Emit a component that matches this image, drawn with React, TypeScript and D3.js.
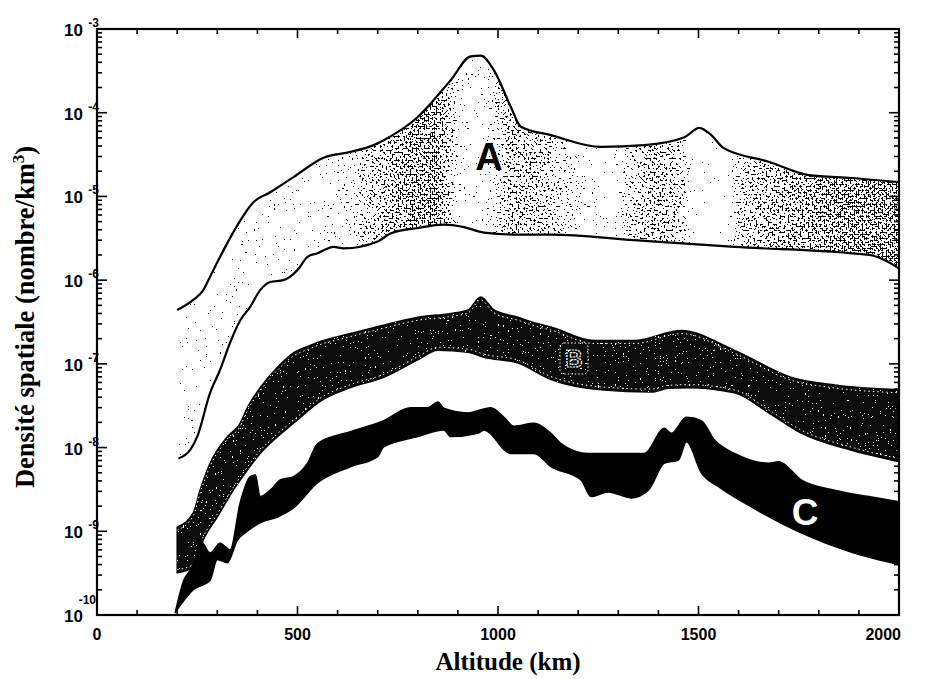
import React from 'react';
import * as d3 from 'd3';

const W = 925;
const H = 679;
const M = { left: 97, right: 899, top: 29, bottom: 615 };

const X_TICKS = [0, 500, 1000, 1500, 2000];
const Y_EXPONENTS = [-3, -4, -5, -6, -7, -8, -9, -10];

type P = [number, number];

// Band A (altitude km, density nombre/km^3)
const A_UPPER: P[] = [
  [200, 4.4e-7], [240, 5.8e-7], [265, 7.6e-7], [282, 1.1e-6], [307, 1.9e-6], [332, 3.2e-6],
  [360, 5.4e-6], [390, 8.5e-6], [432, 1.12e-5], [490, 1.7e-5], [565, 2.9e-5], [632, 3.4e-5],
  [690, 4.1e-5], [715, 4.7e-5], [800, 8.9e-5], [882, 2.45e-4], [932, 4.7e-4], [957, 4.8e-4],
  [990, 3.2e-4], [1032, 1.17e-4], [1057, 6.8e-5], [1132, 5.4e-5], [1257, 3.9e-5], [1365, 4.1e-5],
  [1465, 5.1e-5], [1502, 6.6e-5], [1532, 5.4e-5], [1562, 3.8e-5], [1675, 2.6e-5], [1775, 1.8e-5],
  [1882, 1.66e-5], [2000, 1.48e-5],
];
const A_LOWER: P[] = [
  [203, 7.4e-9], [232, 9.3e-9], [250, 1.35e-8], [282, 4.5e-8], [307, 8.5e-8], [332, 1.8e-7],
  [357, 3.3e-7], [382, 4.8e-7], [407, 7.6e-7], [432, 9.5e-7], [465, 1.0e-6], [500, 1.32e-6],
  [525, 1.9e-6], [550, 2.1e-6], [590, 2.5e-6], [615, 2.4e-6], [700, 2.9e-6], [732, 3.6e-6],
  [800, 4.2e-6], [865, 4.6e-6], [915, 4.3e-6], [965, 3.7e-6], [1050, 3.5e-6], [1132, 3.5e-6],
  [1340, 3.0e-6], [1590, 2.5e-6], [1925, 2.0e-6], [2000, 1.38e-6],
];

// Band B
const B_UPPER: P[] = [
  [200, 1.12e-9], [240, 1.66e-9], [257, 3.1e-9], [282, 6.5e-9], [325, 1.35e-8], [357, 1.95e-8],
  [375, 3.0e-8], [407, 5.2e-8], [450, 9.1e-8], [490, 1.35e-7], [532, 1.66e-7], [550, 1.8e-7],
  [632, 2.3e-7], [715, 2.9e-7], [800, 3.6e-7], [882, 4.0e-7], [925, 4.4e-7], [957, 6.3e-7],
  [990, 4.4e-7], [1050, 3.6e-7], [1090, 3.1e-7], [1132, 2.75e-7], [1240, 1.9e-7], [1340, 1.9e-7],
  [1457, 2.5e-7], [1590, 1.45e-7], [1732, 6.9e-8], [1840, 5.6e-8], [2000, 4.9e-8],
];
const B_LOWER: P[] = [
  [200, 3.2e-10], [240, 3.7e-10], [265, 7.9e-10], [300, 1.48e-9], [340, 3.1e-9], [375, 5.4e-9],
  [407, 8.5e-9], [450, 1.35e-8], [490, 1.95e-8], [532, 2.9e-8], [550, 3.4e-8], [632, 5.2e-8],
  [715, 6.9e-8], [800, 1.12e-7], [850, 1.45e-7], [925, 1.38e-7], [965, 1.2e-7], [1050, 1.02e-7],
  [1132, 6.5e-8], [1257, 4.9e-8], [1382, 4.6e-8], [1425, 5.1e-8], [1475, 5.2e-8], [1590, 4.5e-8],
  [1675, 2.6e-8], [1757, 1.48e-8], [1882, 9.3e-9], [2000, 6.8e-9],
];

// Band C
const C_UPPER: P[] = [
  [195, 1.07e-10], [215, 2.5e-10], [240, 4.0e-10], [257, 7.9e-10], [282, 5.5e-10], [307, 7.2e-10],
  [332, 6.0e-10], [357, 2.2e-9], [382, 4.5e-9], [395, 4.7e-9], [407, 2.6e-9], [432, 3.1e-9],
  [457, 4.1e-9], [490, 4.5e-9], [525, 6.5e-9], [550, 1.12e-8], [632, 1.55e-8], [715, 2.1e-8],
  [782, 3.0e-8], [825, 3.0e-8], [850, 3.5e-8], [865, 2.95e-8], [925, 2.6e-8], [982, 3.0e-8],
  [1015, 2.3e-8], [1040, 1.8e-8], [1090, 1.95e-8], [1132, 1.48e-8], [1157, 1.12e-8], [1225, 8.5e-9],
  [1365, 8.5e-9], [1415, 1.7e-8], [1432, 1.48e-8], [1470, 2.3e-8], [1507, 2.1e-8], [1540, 1.23e-8],
  [1590, 8.5e-9], [1675, 6.5e-9], [1700, 6.8e-9], [1757, 4.1e-9], [1840, 3.1e-9], [1925, 2.6e-9],
  [2000, 2.25e-9],
];
const C_LOWER: P[] = [
  [195, 1.07e-10], [240, 2.0e-10], [282, 2.6e-10], [300, 4.6e-10], [325, 4.2e-10], [350, 7.8e-10],
  [375, 1.0e-9], [407, 1.26e-9], [450, 1.48e-9], [490, 1.9e-9], [550, 3.8e-9], [632, 5.9e-9],
  [700, 7.8e-9], [715, 1.02e-8], [800, 1.35e-8], [865, 1.62e-8], [882, 1.35e-8], [950, 1.48e-8],
  [965, 1.62e-8], [1032, 8.5e-9], [1090, 8.5e-9], [1132, 5.9e-9], [1207, 4.1e-9], [1232, 2.6e-9],
  [1275, 2.95e-9], [1332, 2.5e-9], [1375, 3.1e-9], [1415, 6.5e-9], [1450, 7.1e-9], [1470, 1.17e-8],
  [1507, 5.0e-9], [1550, 3.4e-9], [1632, 1.95e-9], [1757, 9.5e-10], [1882, 5.6e-10], [2000, 4.0e-10],
];

// shading density profile of band A (style: relative stipple density along altitude)
const A_SHADE: P[] = [
  [200, 0.04], [550, 0.06], [640, 0.14], [700, 0.34], [780, 0.54], [850, 0.54], [895, 0.15],
  [935, 0.04], [985, 0.12], [1030, 0.4], [1100, 0.34], [1180, 0.15], [1280, 0.03], [1340, 0.24],
  [1400, 0.42], [1450, 0.27], [1490, 0.02], [1570, 0.02], [1620, 0.34], [1720, 0.46], [1850, 0.56],
  [2000, 0.56],
];

const SANS = "'Liberation Sans', Arial, Helvetica, sans-serif";
const SERIF = "'Liberation Serif', 'Times New Roman', serif";

function Stipple({ id, color, freq, seed }: { id: string; color: string; freq: number; seed: number }) {
  return (
    <filter id={id} filterUnits="userSpaceOnUse" x={0} y={0} width={W} height={H} colorInterpolationFilters="sRGB">
      <feTurbulence type="fractalNoise" baseFrequency={String(freq)} numOctaves={2} seed={seed} result="noise" />
      <feColorMatrix in="noise" type="matrix" values="0 0 0 0 0  0 0 0 0 0  0 0 0 0 0  1 0 0 0 0" result="nA" />
      <feComposite in="SourceAlpha" in2="nA" operator="arithmetic" k1={0} k2={1} k3={-1} k4={0.5} result="diff" />
      <feComponentTransfer in="diff" result="th">
        <feFuncA type="discrete" tableValues="0 1" />
      </feComponentTransfer>
      <feFlood floodColor={color} result="fl" />
      <feComposite in="fl" in2="th" operator="in" />
    </filter>
  );
}

export default function App() {
  const x = d3.scaleLinear().domain([0, 2000]).range([M.left, M.right]);
  const y = d3.scaleLog().domain([1e-10, 1e-3]).range([M.bottom, M.top]);

  const mk = (curve: d3.CurveFactory) =>
    d3.line<P>().x((d) => x(d[0])).y((d) => y(d[1])).curve(curve);
  const smooth = mk(d3.curveMonotoneX);

  const band = (up: P[], lo: P[], l: d3.Line<P>) => {
    const a = l(up) as string;
    const b = (l(lo.slice().reverse()) as string).replace(/^M/, 'L');
    return a + b + 'Z';
  };

  const aPath = band(A_UPPER, A_LOWER, smooth);
  const bPath = band(B_UPPER, B_LOWER, smooth);
  const cPath = band(C_UPPER, C_LOWER, smooth);

  const shadeD = (f: number) => 0.24 + 0.46 * f;

  const yMajor = Y_EXPONENTS.map((e) => Math.pow(10, e));
  const yMinor: number[] = [];
  for (let e = -10; e < -3; e++) for (let k = 2; k <= 9; k++) yMinor.push(k * Math.pow(10, e));
  const xTicksAll = d3.range(0, 2001, 100);

  const tick = { stroke: '#000', strokeWidth: 1.6 };

  return (
    <svg
      width={W}
      height={H}
      viewBox={`0 0 ${W} ${H}`}
      style={{ position: 'absolute', left: 0, top: 0, background: '#fff' }}
    >
      <defs>
        <clipPath id="plot">
          <rect x={M.left} y={M.top} width={M.right - M.left} height={M.bottom - M.top} />
        </clipPath>
        <clipPath id="bclip">
          <path d={bPath} />
        </clipPath>
        <linearGradient id="aShade" gradientUnits="userSpaceOnUse" x1={x(0)} x2={x(2000)} y1={0} y2={0}>
          {A_SHADE.map(([km, f], i) => (
            <stop key={i} offset={km / 2000} stopColor="#000" stopOpacity={shadeD(f)} />
          ))}
        </linearGradient>
        <Stipple id="stipK" color="#000" freq={0.5} seed={7} />
        <Stipple id="stipW" color="#fff" freq={0.6} seed={3} />
      </defs>

      <g clipPath="url(#plot)">
        {/* Band A */}
        <path d={aPath} fill="url(#aShade)" filter="url(#stipK)" />
        <path d={smooth(A_UPPER) as string} fill="none" stroke="#000" strokeWidth={2.2} strokeLinejoin="round" />
        <path d={smooth(A_LOWER) as string} fill="none" stroke="#000" strokeWidth={2.2} strokeLinejoin="round" />

        {/* Band B */}
        <path d={bPath} fill="#0c0c0c" stroke="#000" strokeWidth={1.5} />
        <path d={bPath} fill="#000" fillOpacity={0.27} filter="url(#stipW)" />
        <g clipPath="url(#bclip)">
          <path d={smooth(B_UPPER) as string} transform="translate(0,3)" fill="none" stroke="#fff" strokeWidth={1} strokeDasharray="1.5 3" />
          <path d={smooth(B_LOWER) as string} transform="translate(0,-3)" fill="none" stroke="#fff" strokeWidth={1} strokeDasharray="1.5 3" />
        </g>

        {/* Band C */}
        <path d={cPath} fill="#000" stroke="#000" strokeWidth={1.4} strokeLinejoin="round" />
      </g>

      {/* band labels */}
      <text x={489} y={170} textAnchor="middle" fontFamily={SANS} fontWeight="bold" fontSize={38} fill="#000">A</text>
      <rect x={560} y={343} width={28} height={31} rx={4} fill="none" stroke="#fff" strokeWidth={1} strokeDasharray="1.5 2" />
      <text x={574} y={367} textAnchor="middle" fontFamily={SANS} fontWeight="bold" fontSize={24} fill="none" stroke="#fff" strokeWidth={1.2} strokeDasharray="2 1">B</text>
      <text x={805} y={525} textAnchor="middle" fontFamily={SANS} fontWeight="bold" fontSize={37} fill="#fff">C</text>

      {/* frame */}
      <rect x={M.left} y={M.top} width={M.right - M.left} height={M.bottom - M.top} fill="none" stroke="#000" strokeWidth={2.2} />

      {/* y ticks left & right */}
      {yMajor.map((v, i) => (
        <g key={'ym' + i}>
          <line x1={M.left} x2={M.left + 10} y1={y(v)} y2={y(v)} {...tick} />
          <line x1={M.right} x2={M.right - 10} y1={y(v)} y2={y(v)} {...tick} />
        </g>
      ))}
      {yMinor.map((v, i) => (
        <g key={'yn' + i}>
          <line x1={M.left} x2={M.left + 5} y1={y(v)} y2={y(v)} {...tick} />
          <line x1={M.right} x2={M.right - 5} y1={y(v)} y2={y(v)} {...tick} />
        </g>
      ))}
      {/* x ticks top & bottom */}
      {xTicksAll.map((v, i) => {
        const len = v % 500 === 0 ? 9 : 5;
        return (
          <g key={'xt' + i}>
            <line x1={x(v)} x2={x(v)} y1={M.bottom} y2={M.bottom - len} {...tick} />
            <line x1={x(v)} x2={x(v)} y1={M.top} y2={M.top + len} {...tick} />
          </g>
        );
      })}

      {/* y tick labels */}
      {Y_EXPONENTS.map((e, i) => (
        <g key={'yl' + i} fontFamily={SANS} fontWeight="bold" fill="#000">
          <text x={83} y={y(Math.pow(10, e)) + 7} textAnchor="end" fontSize={17}>10</text>
          <text x={e === -10 ? 96 : 99} y={y(Math.pow(10, e)) - (e === -10 ? 11 : 2)} textAnchor="end" fontSize={12}>{String(e)}</text>
        </g>
      ))}

      {/* x tick labels */}
      {X_TICKS.map((v, i) => (
        <text key={'xl' + i} x={v === 2000 ? x(v) + 2 : x(v)} y={640} textAnchor={v === 2000 ? 'end' : 'middle'} fontFamily={SANS} fontWeight="bold" fontSize={16} fill="#000">
          {v}
        </text>
      ))}

      {/* axis titles */}
      <text x={(M.left + M.right) / 2 + 10} y={670} textAnchor="middle" fontFamily={SERIF} fontWeight="bold" fontSize={25} fill="#000">
        Altitude (km)
      </text>
      <text
        transform={`translate(34,${317}) rotate(-90)`}
        textAnchor="middle"
        fontFamily={SERIF}
        fontWeight="bold"
        fontSize={26.5}
        fill="#000"
      >
        Densité spatiale (nombre/km<tspan dy={-10} fontSize={17}>3</tspan><tspan dy={10}>)</tspan>
      </text>
    </svg>
  );
}
